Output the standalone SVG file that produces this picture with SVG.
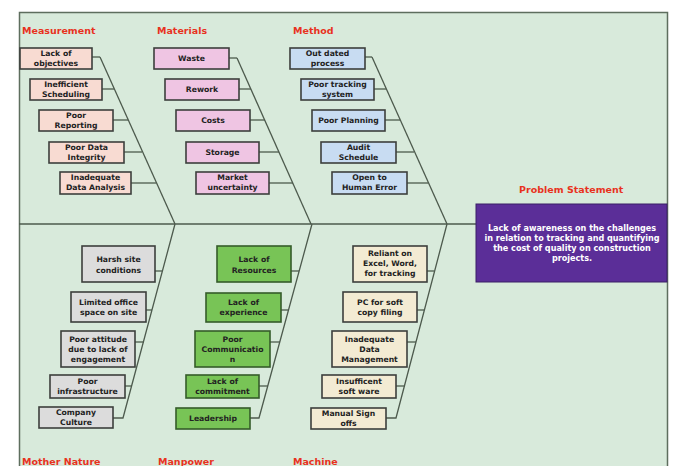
<svg xmlns="http://www.w3.org/2000/svg" width="674" height="466" viewBox="0 0 674 466">
<style>
.lbl{font-family:"DejaVu Sans",Verdana,sans-serif;font-weight:bold;font-size:9.5px;fill:#e8321e}
.t{font-family:"DejaVu Sans",Verdana,sans-serif;font-weight:bold;font-size:7.7px;fill:#222;text-anchor:middle}
.pt{font-family:"DejaVu Sans",Verdana,sans-serif;font-weight:bold;font-size:8.1px;fill:#fff;text-anchor:middle}
.b{stroke:#3c3f3c;stroke-width:1.6}
.meas{fill:#f8dbd2}
.mat{fill:#efc5e3}
.met{fill:#c8dcf2}
.nat{fill:#dcdcdc}
.man{fill:#78c456;stroke:#355c2a}
.mac{fill:#f3ebd3}
.c line,.c polyline{stroke:#4d5a4d;stroke-width:1.3;fill:none}
</style>
<rect x="0" y="0" width="674" height="466" fill="#ffffff"/>
<rect x="19.5" y="12.5" width="648" height="460" fill="#d8eadb" stroke="#5e6e5e" stroke-width="1.5"/>

<g class="c" id="connectors">
  <line x1="19" y1="224" x2="476" y2="224"/>
  <line x1="100" y1="57" x2="175" y2="224"/>
  <line x1="237" y1="58" x2="311" y2="224"/>
  <line x1="372" y1="57" x2="447" y2="224"/>
  <polyline points="175,224 123,418 113,418"/>
  <polyline points="312,224 259,418 250,418"/>
  <polyline points="447,224 396,418 386,418"/>
  <line x1="92" y1="57" x2="100" y2="57"/>
  <line x1="102" y1="89" x2="114" y2="89"/>
  <line x1="113" y1="120" x2="128" y2="120"/>
  <line x1="124" y1="152" x2="142" y2="152"/>
  <line x1="131" y1="183" x2="156" y2="183"/>
  <line x1="229" y1="58" x2="237" y2="58"/>
  <line x1="239" y1="89" x2="251" y2="89"/>
  <line x1="250" y1="120" x2="265" y2="120"/>
  <line x1="259" y1="152" x2="279" y2="152"/>
  <line x1="269" y1="183" x2="293" y2="183"/>
  <line x1="365" y1="57" x2="372" y2="57"/>
  <line x1="374" y1="89" x2="386" y2="89"/>
  <line x1="385" y1="120" x2="400" y2="120"/>
  <line x1="396" y1="152" x2="414" y2="152"/>
  <line x1="407" y1="183" x2="428" y2="183"/>
  <line x1="155" y1="271" x2="162" y2="271"/>
  <line x1="146" y1="310" x2="152" y2="310"/>
  <line x1="135" y1="342" x2="144" y2="342"/>
  <line x1="125" y1="386" x2="132" y2="386"/>
  <line x1="291" y1="271" x2="299" y2="271"/>
  <line x1="281" y1="310" x2="289" y2="310"/>
  <line x1="270" y1="342" x2="280" y2="342"/>
  <line x1="259" y1="386" x2="268" y2="386"/>
  <line x1="427" y1="271" x2="434" y2="271"/>
  <line x1="417" y1="310" x2="424" y2="310"/>
  <line x1="407" y1="342" x2="416" y2="342"/>
  <line x1="396" y1="386" x2="405" y2="386"/>
</g>

<g id="labels">
  <text class="lbl" x="22" y="34">Measurement</text>
  <text class="lbl" x="157" y="34">Materials</text>
  <text class="lbl" x="293" y="34">Method</text>
  <text class="lbl" x="519" y="193">Problem Statement</text>
  <text class="lbl" x="22" y="465">Mother Nature</text>
  <text class="lbl" x="158" y="465">Manpower</text>
  <text class="lbl" x="293" y="465">Machine</text>
</g>

<g id="problem">
  <rect x="476" y="204" width="191" height="78" fill="#5b2e98" stroke="#3a1f66" stroke-width="1"/>
  <text class="pt" x="572" y="231">Lack of awareness on the challenges</text>
  <text class="pt" x="572" y="241">in relation to tracking and quantifying</text>
  <text class="pt" x="572" y="251">the cost of quality on construction</text>
  <text class="pt" x="572" y="261">projects.</text>
</g>

<g id="m1"><rect class="b meas" x="20" y="48" width="72" height="21"/><text class="t" x="56" y="56">Lack of</text><text class="t" x="56" y="66">objectives</text></g>
<g id="m2"><rect class="b meas" x="30" y="79" width="72" height="21"/><text class="t" x="66" y="87">Inefficient</text><text class="t" x="66" y="97">Scheduling</text></g>
<g id="m3"><rect class="b meas" x="39" y="110" width="74" height="21"/><text class="t" x="76" y="118">Poor</text><text class="t" x="76" y="128">Reporting</text></g>
<g id="m4"><rect class="b meas" x="49" y="142" width="75" height="21"/><text class="t" x="86.5" y="150">Poor Data</text><text class="t" x="86.5" y="160">Integrity</text></g>
<g id="m5"><rect class="b meas" x="60" y="172" width="71" height="22"/><text class="t" x="95.5" y="180">Inadequate</text><text class="t" x="95.5" y="190">Data Analysis</text></g>

<g id="ma1"><rect class="b mat" x="154" y="48" width="75" height="21"/><text class="t" x="191.5" y="61">Waste</text></g>
<g id="ma2"><rect class="b mat" x="165" y="79" width="74" height="21"/><text class="t" x="202" y="92">Rework</text></g>
<g id="ma3"><rect class="b mat" x="176" y="110" width="74" height="21"/><text class="t" x="213" y="123">Costs</text></g>
<g id="ma4"><rect class="b mat" x="186" y="142" width="73" height="21"/><text class="t" x="222.5" y="155">Storage</text></g>
<g id="ma5"><rect class="b mat" x="196" y="172" width="73" height="22"/><text class="t" x="232.5" y="180">Market</text><text class="t" x="232.5" y="190">uncertainty</text></g>

<g id="me1"><rect class="b met" x="290" y="48" width="75" height="21"/><text class="t" x="327.5" y="56">Out dated</text><text class="t" x="327.5" y="66">process</text></g>
<g id="me2"><rect class="b met" x="301" y="79" width="73" height="21"/><text class="t" x="337.5" y="87">Poor tracking</text><text class="t" x="337.5" y="97">system</text></g>
<g id="me3"><rect class="b met" x="312" y="110" width="73" height="21"/><text class="t" x="348.5" y="123">Poor Planning</text></g>
<g id="me4"><rect class="b met" x="321" y="142" width="75" height="21"/><text class="t" x="358.5" y="150">Audit</text><text class="t" x="358.5" y="160">Schedule</text></g>
<g id="me5"><rect class="b met" x="332" y="172" width="75" height="22"/><text class="t" x="369.5" y="180">Open to</text><text class="t" x="369.5" y="190">Human Error</text></g>

<g id="n1"><rect class="b nat" x="82" y="246" width="73" height="36"/><text class="t" x="118.5" y="262">Harsh site</text><text class="t" x="118.5" y="273">conditions</text></g>
<g id="n2"><rect class="b nat" x="71" y="292" width="75" height="30"/><text class="t" x="108.5" y="305">Limited office</text><text class="t" x="108.5" y="315">space on site</text></g>
<g id="n3"><rect class="b nat" x="61" y="331" width="74" height="36"/><text class="t" x="98" y="342">Poor attitude</text><text class="t" x="98" y="352">due to lack of</text><text class="t" x="98" y="362">engagement</text></g>
<g id="n4"><rect class="b nat" x="50" y="375" width="75" height="23"/><text class="t" x="87.5" y="384">Poor</text><text class="t" x="87.5" y="394">infrastructure</text></g>
<g id="n5"><rect class="b nat" x="39" y="407" width="74" height="21"/><text class="t" x="76" y="415">Company</text><text class="t" x="76" y="425">Culture</text></g>

<g id="p1"><rect class="b man" x="217" y="246" width="74" height="36"/><text class="t" x="254" y="262">Lack of</text><text class="t" x="254" y="273">Resources</text></g>
<g id="p2"><rect class="b man" x="206" y="293" width="75" height="29"/><text class="t" x="243.5" y="305">Lack of</text><text class="t" x="243.5" y="315">experience</text></g>
<g id="p3"><rect class="b man" x="195" y="331" width="75" height="36"/><text class="t" x="232.5" y="342">Poor</text><text class="t" x="232.5" y="352">Communicatio</text><text class="t" x="232.5" y="362">n</text></g>
<g id="p4"><rect class="b man" x="186" y="375" width="73" height="23"/><text class="t" x="222.5" y="384">Lack of</text><text class="t" x="222.5" y="394">commitment</text></g>
<g id="p5"><rect class="b man" x="176" y="408" width="74" height="21"/><text class="t" x="213" y="421">Leadership</text></g>

<g id="c1"><rect class="b mac" x="353" y="246" width="74" height="36"/><text class="t" x="390" y="256">Reliant on</text><text class="t" x="390" y="266">Excel, Word,</text><text class="t" x="390" y="276">for tracking</text></g>
<g id="c2"><rect class="b mac" x="343" y="292" width="74" height="30"/><text class="t" x="380" y="305">PC for soft</text><text class="t" x="380" y="315">copy filing</text></g>
<g id="c3"><rect class="b mac" x="332" y="331" width="75" height="36"/><text class="t" x="369.5" y="342">Inadequate</text><text class="t" x="369.5" y="352">Data</text><text class="t" x="369.5" y="362">Management</text></g>
<g id="c4"><rect class="b mac" x="322" y="375" width="74" height="23"/><text class="t" x="359" y="384">Insufficent</text><text class="t" x="359" y="394">soft ware</text></g>
<g id="c5"><rect class="b mac" x="311" y="408" width="75" height="21"/><text class="t" x="348.5" y="416">Manual Sign</text><text class="t" x="348.5" y="426">offs</text></g>
</svg>
